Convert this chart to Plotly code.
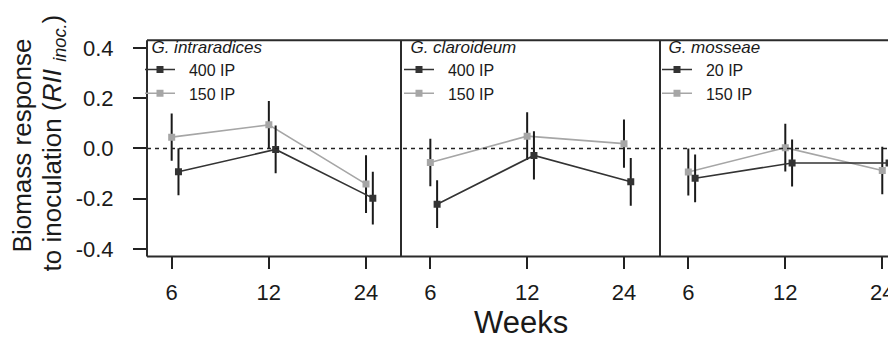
import numpy as np
import plotly.graph_objects as go

# ---------------- data ----------------
weeks = ["6", "12", "24"]
y_tick_vals = [0.4, 0.2, 0.0, -0.2, -0.4]
y_tick_text = ["0.4", "0.2", "0.0", "-0.2", "-0.4"]

species = ["G. intraradices", "G. claroideum", "G. mosseae"]
high_labels = ["400 IP", "400 IP", "20 IP"]
low_labels = ["150 IP", "150 IP", "150 IP"]

intra_high = [-0.093, -0.004, -0.198]
intra_high_err = [0.094, 0.095, 0.105]
intra_low = [0.045, 0.094, -0.142]
intra_low_err = [0.094, 0.095, 0.115]

claro_high = [-0.222, -0.028, -0.133]
claro_high_err = [0.095, 0.096, 0.095]
claro_low = [-0.056, 0.049, 0.019]
claro_low_err = [0.095, 0.095, 0.096]

mosse_high = [-0.119, -0.058, -0.058]
mosse_high_err = [0.095, 0.094, 0.094]
mosse_low = [-0.094, 0.003, -0.088]
mosse_low_err = [0.094, 0.095, 0.095]

high_vals = [intra_high, claro_high, mosse_high]
high_errs = [intra_high_err, claro_high_err, mosse_high_err]
low_vals = [intra_low, claro_low, mosse_low]
low_errs = [intra_low_err, claro_low_err, mosse_low_err]

# ---------------- layout helpers ----------------
W, H = 896, 341
FONT = "Liberation Sans, Arial, Helvetica, sans-serif"
DARK = "#333333"
LIGHT = "#a6a6a6"
FRAME = "#2b2b2b"
NB = "\u00a0"
pos = np.arange(len(weeks)) + 1.0
dodge_high = 0.07

panel_px = [(139, 393), (393, 652), (652, 896)]
x_ranges = [[0.746, 3.36], [0.697, 3.372], [0.708, 3.224]]
y_top_px, y_bot_px = 29, 251
y_dom = [1 - y_bot_px / H, 1 - y_top_px / H]
y_range = [-0.430, 0.431]
legend_px = [(132, 19), (391, 19), (649, 19)]

fig = go.Figure()
for i in range(3):
    xa = "x" if i == 0 else f"x{i + 1}"
    leg = "legend" if i == 0 else f"legend{i + 1}"
    fig.add_trace(go.Scatter(
        x=pos, y=low_vals[i], xaxis=xa, yaxis="y", legend=leg, legendrank=2,
        name=NB * 2 + low_labels[i], mode="lines+markers",
        line=dict(color=LIGHT, width=1.6),
        marker=dict(symbol="square", size=7, color=LIGHT),
        error_y=dict(type="data", array=low_errs[i], color="#1a1a1a", thickness=2, width=0),
    ))
    fig.add_trace(go.Scatter(
        x=pos + dodge_high, y=high_vals[i], xaxis=xa, yaxis="y", legend=leg, legendrank=1,
        name=NB * 2 + high_labels[i], mode="lines+markers",
        line=dict(color=DARK, width=1.6),
        marker=dict(symbol="square", size=7, color=DARK),
        error_y=dict(type="data", array=high_errs[i], color="#1a1a1a", thickness=2, width=0),
    ))

layout = dict(
    width=W, height=H,
    margin=dict(l=0, r=0, t=0, b=0),
    paper_bgcolor="white", plot_bgcolor="rgba(0,0,0,0)",
    font=dict(family=FONT, color="#1a1a1a"),
    showlegend=True,
)

for i in range(3):
    key = "xaxis" if i == 0 else f"xaxis{i + 1}"
    layout[key] = dict(
        domain=[panel_px[i][0] / W, panel_px[i][1] / W],
        range=x_ranges[i], anchor="y",
        tickmode="array", tickvals=list(pos), ticktext=weeks,
        ticks="outside", ticklen=12, tickwidth=1.8, tickcolor="#222222",
        showgrid=False, zeroline=False, showline=False,
        tickfont=dict(size=22, family=FONT, color="#1a1a1a"),
        ticklabelstandoff=4,
    )
    lkey = "legend" if i == 0 else f"legend{i + 1}"
    layout[lkey] = dict(
        x=legend_px[i][0] / W, y=1 - legend_px[i][1] / H,
        xanchor="left", yanchor="top",
        bgcolor="rgba(0,0,0,0)", borderwidth=0,
        title=dict(text=NB * 2 + species[i],
                   font=dict(size=17, style="italic", family=FONT, color="#1a1a1a")),
        font=dict(size=16, family=FONT, color="#1a1a1a"),
        itemwidth=30, tracegroupgap=0,
    )

layout["yaxis"] = dict(
    domain=y_dom, range=y_range, anchor="x",
    tickmode="array", tickvals=y_tick_vals, ticktext=y_tick_text,
    ticks="outside", ticklen=13, tickwidth=1.8, tickcolor="#222222",
    showgrid=False, zeroline=False, showline=False,
    tickfont=dict(size=22, family=FONT, color="#1a1a1a"),
    ticklabelstandoff=15,
)

shapes = []
# zero reference line
shapes.append(dict(type="line", xref="paper", yref="y", x0=panel_px[0][0] / W, x1=1.0,
                   y0=0, y1=0, line=dict(color="#222222", width=1.5, dash="4px,4px")))
# frame
xl, xr = panel_px[0][0] / W, 1.0
for yy in (y_dom[0], y_dom[1]):
    shapes.append(dict(type="line", xref="paper", yref="paper", x0=xl, x1=xr, y0=yy, y1=yy,
                       line=dict(color=FRAME, width=2)))
for px in (panel_px[0][0], panel_px[1][0], panel_px[2][0]):
    shapes.append(dict(type="line", xref="paper", yref="paper", x0=px / W, x1=px / W,
                       y0=y_dom[0], y1=y_dom[1], line=dict(color=FRAME, width=2)))
layout["shapes"] = shapes

layout["annotations"] = [
    dict(text="Biomass response", x=14 / W, y=1 - 137 / H, xref="paper", yref="paper",
         textangle=-90, showarrow=False, xanchor="center", yanchor="middle",
         font=dict(size=26, family=FONT, color="#1a1a1a")),
    dict(text="to inoculation (<i>RII</i> <sub><i>inoc.</i></sub>)", x=45 / W, y=1 - 135 / H,
         xref="paper", yref="paper", textangle=-90, showarrow=False,
         xanchor="center", yanchor="middle",
         font=dict(size=26, family=FONT, color="#1a1a1a")),
    dict(text="Weeks", x=513 / W, y=1 - 319 / H, xref="paper", yref="paper",
         showarrow=False, xanchor="center", yanchor="middle",
         font=dict(size=31, family=FONT, color="#1a1a1a")),
]

fig.update_layout(**layout)
fig.write_html("out.html")
